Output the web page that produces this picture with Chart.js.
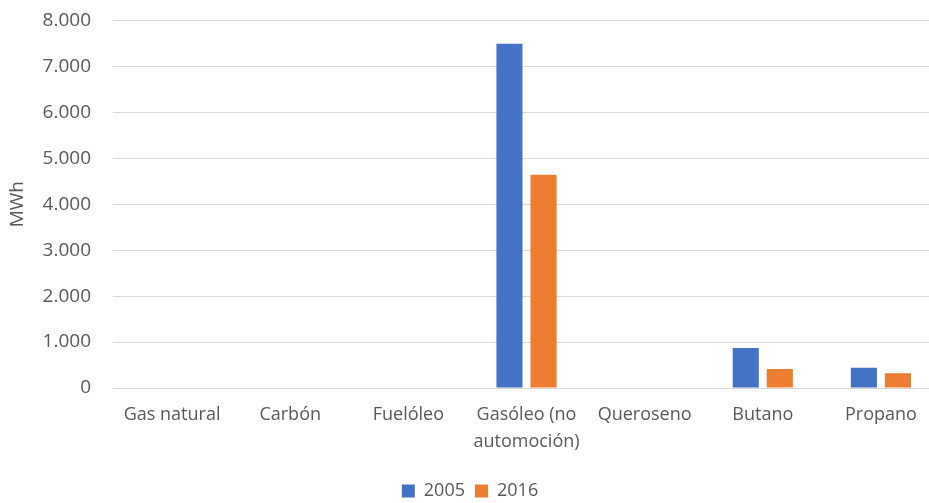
<!DOCTYPE html>
<html>
<head>
<meta charset="utf-8">
<script src="https://cdn.jsdelivr.net/npm/chart.js@4/dist/chart.umd.min.js"></script>
<style>
  html, body { margin: 0; padding: 0; background: #fff; overflow: hidden; }
  #wrap { width: 940px; height: 516px; position: absolute; left: 0; top: -13px; }
</style>
</head>
<body>
<div id="wrap"><canvas id="chart"></canvas></div>
<script>
// Consumo por tipo de combustible (MWh)
const categories = ['Gas natural', 'Carbón', 'Fuelóleo', ['Gasóleo (no', 'automoción)'], 'Queroseno', 'Butano', 'Propano'];
const values2005 = [0, 0, 0, 7490, 0, 870, 443];
const values2016 = [0, 0, 0, 4640, 0, 415, 320];
const yTicks = [0, 1000, 2000, 3000, 4000, 5000, 6000, 7000, 8000];

const fmt = v => String(v).replace(/\B(?=(\d{3})+(?!\d))/g, '.');
const font = { family: "'Open Sans', sans-serif", size: 18 };
const textColor = '#595959';

new Chart(document.getElementById('chart'), {
    type: 'bar',
    data: {
        labels: categories,
        datasets: [
            {
                label: '2005',
                data: values2005,
                backgroundColor: '#4472C4',
                barPercentage: 0.765,
                categoryPercentage: 0.577,
            },
            {
                label: '2016',
                data: values2016,
                backgroundColor: '#ED7D31',
                barPercentage: 0.765,
                categoryPercentage: 0.577,
            }
        ]
    },
    options: {
        responsive: true,
        maintainAspectRatio: false,
        animation: false,
        layout: { padding: { top: -4, right: 0, bottom: -7, left: 0 } },
        plugins: {
            legend: {
                position: 'bottom',
                labels: {
                    color: textColor,
                    font: font,
                    boxWidth: 13,
                    boxHeight: 13,
                    padding: 10,
                }
            },
            tooltip: { enabled: false }
        },
        scales: {
            x: {
                grid: { display: false, drawTicks: false },
                border: { color: '#d9d9d9' },
                ticks: { color: textColor, font: { ...font, lineHeight: 1.5 }, padding: 13, maxRotation: 0, autoSkip: false },
                afterFit: s => { s.height = 84; }
            },
            y: {
                min: 0,
                max: 8000,
                afterBuildTicks: s => { s.ticks = yTicks.map(v => ({ value: v })); },
                grid: { color: '#d9d9d9', drawTicks: false },
                border: { display: false },
                ticks: { color: textColor, font: { ...font, size: 19 }, padding: 22, callback: v => fmt(v) },
                title: { display: true, text: 'MWh', color: textColor, font: { ...font, size: 19 }, padding: { top: 6, bottom: 0 } },
                afterFit: s => { s.width = 113; }
            }
        }
    }
});
</script>
</body>
</html>
